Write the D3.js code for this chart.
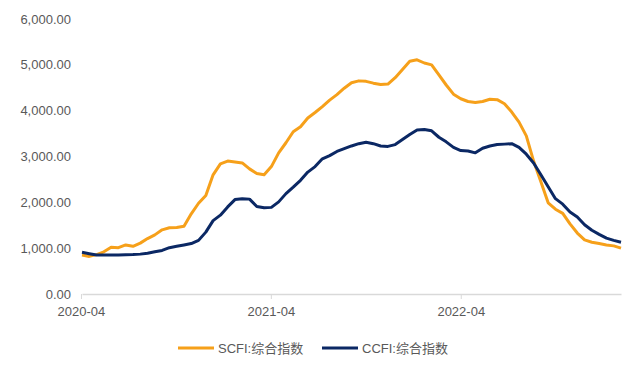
<!DOCTYPE html>
<html>
<head>
<meta charset="utf-8">
<script src="https://cdn.jsdelivr.net/npm/d3@7"></script>
<style>
	body { margin: 0; background: #fff; }
	text { font-family: "Liberation Sans", Arial, "Noto Sans CJK SC", sans-serif; }
</style>
</head>
<body>
<div id="chart"></div>
<script>
// biweekly observations starting 2020-04-03
const startDate = "2020-04-03";
const stepDays = 14;

const scfi = [
	850, 820, 860, 920, 1020, 1010, 1070, 1040, 1110, 1210,
	1290, 1400, 1445, 1450, 1480, 1750, 1980, 2150, 2600, 2840,
	2900, 2880, 2860, 2730, 2630, 2600, 2780, 3080, 3300, 3540,
	3650, 3840, 3960, 4090, 4230, 4350, 4490, 4610, 4650, 4640,
	4600, 4570, 4580, 4720, 4900, 5080, 5110, 5040, 5000, 4780,
	4560, 4360, 4260, 4200, 4180, 4200, 4250, 4240, 4150, 3970,
	3750, 3450, 2900, 2450, 1990, 1850, 1760, 1530, 1330, 1180,
	1130, 1100, 1070, 1050, 1000
];

const ccfi = [
	910, 880, 850, 850, 850, 850, 855, 860, 870, 890,
	920, 950, 1010, 1040, 1070, 1100, 1170, 1350, 1600, 1720,
	1900, 2060, 2080, 2070, 1910, 1880, 1890, 2010, 2190, 2330,
	2480, 2660, 2780, 2950, 3020, 3110, 3170, 3230, 3280, 3310,
	3280, 3230, 3220, 3260, 3370, 3480, 3580, 3590, 3560, 3420,
	3320, 3200, 3130, 3120, 3080, 3180, 3230, 3260, 3270, 3280,
	3200, 3050, 2860, 2600, 2340, 2080, 1960, 1790, 1680, 1510,
	1390, 1300, 1220, 1170, 1130
];

const yTicks = [0, 1000, 2000, 3000, 4000, 5000, 6000];
const xTicks = ["2020-04", "2021-04", "2022-04"];
const seriesNames = ["SCFI:综合指数", "CCFI:综合指数"];
const colors = ["#F6A01A", "#0B2864"];

const width = 640, height = 373;
const parse = d3.timeParse("%Y-%m-%d");
const t0 = parse(startDate);
const dates = scfi.map((d, i) => d3.timeDay.offset(t0, i * stepDays));

const x = d3.scaleTime()
	.domain([t0, dates[dates.length - 1]])
	.range([82, 621]);
const y = d3.scaleLinear()
	.domain([0, 6000])
	.range([294, 19]);

const svg = d3.select("#chart")
	.append("svg")
	.attr("width", width)
	.attr("height", height);

// y labels
svg.append("g")
	.selectAll("text")
	.data(yTicks)
	.enter()
	.append("text")
	.attr("x", 71)
	.attr("y", (d) => y(d))
	.attr("dy", "0.35em")
	.attr("text-anchor", "end")
	.attr("font-size", 13)
	.attr("fill", "#595959")
	.text((d) => d3.format(",.2f")(d));

// x axis
const tickDates = xTicks.map((s) => d3.timeParse("%Y-%m")(s));
const xAxis = d3.axisBottom(x)
	.tickValues(tickDates)
	.tickFormat(d3.timeFormat("%Y-%m"))
	.tickSize(5)
	.tickSizeOuter(0);
const gx = svg.append("g")
	.attr("transform", "translate(0," + y(0) + ")")
	.call(xAxis);
gx.select(".domain").attr("stroke", "#d9d9d9").attr("stroke-width", 1.5);
gx.selectAll(".tick line").attr("stroke", "#d9d9d9");
gx.selectAll(".tick text")
	.attr("font-size", 13)
	.attr("fill", "#595959")
	.attr("y", 13);

// lines
const line = d3.line()
	.x((d, i) => x(dates[i]))
	.y((d) => y(d));

svg.selectAll("path.series")
	.data([scfi, ccfi])
	.enter()
	.append("path")
	.attr("class", "series")
	.attr("fill", "none")
	.attr("stroke", (d, i) => colors[i])
	.attr("stroke-width", 3)
	.attr("stroke-linejoin", "round")
	.attr("d", line);

// legend
const legendX = [178, 322];
const lg = svg.append("g")
	.selectAll("g")
	.data(seriesNames)
	.enter()
	.append("g")
	.attr("transform", (d, i) => "translate(" + legendX[i] + ",348)");
lg.append("line")
	.attr("x1", 0)
	.attr("x2", 36)
	.attr("stroke", (d, i) => colors[i])
	.attr("stroke-width", 3);
lg.append("text")
	.attr("x", 40)
	.attr("dy", "0.35em")
	.attr("font-size", 13)
	.attr("fill", "#595959")
	.text((d) => d);
</script>
</body>
</html>
